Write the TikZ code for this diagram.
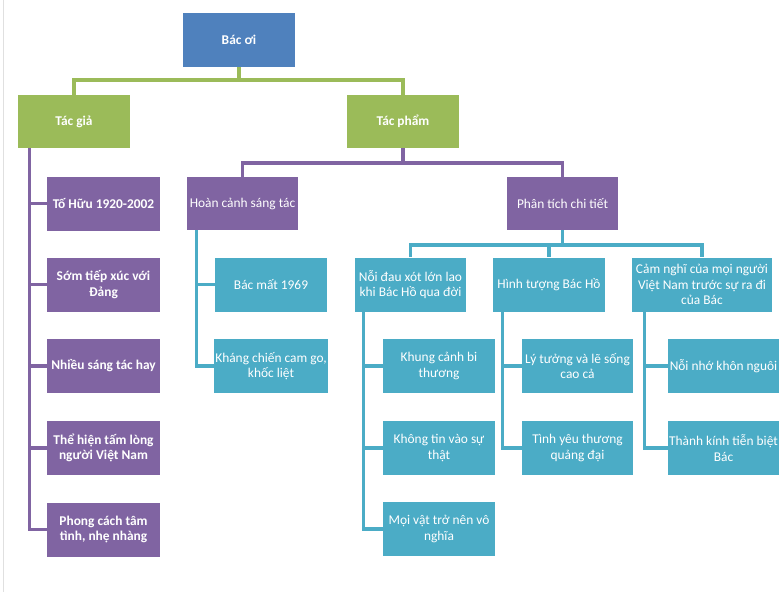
\documentclass[tikz,border=0pt]{standalone}
\usepackage{fontspec}
\setmainfont{Carlito}
\usetikzlibrary{calc}
\definecolor{cblue}{HTML}{4F81BD}
\definecolor{cgreen}{HTML}{9BBB59}
\definecolor{cpurple}{HTML}{8064A2}
\definecolor{ccyan}{HTML}{4BACC6}
\begin{document}
\begin{tikzpicture}[x=1pt,y=-1pt,
  box/.style={rectangle, inner sep=1pt, text=white, align=center,
    font=\fontsize{13.4}{15.2}\selectfont, minimum height=54pt, minimum width=112pt},
  bbox/.style={box, font=\fontsize{13.4}{15.2}\selectfont\bfseries},
  bluebox/.style={bbox, fill=cblue},
  greenbox/.style={bbox, fill=cgreen},
  purplebbox/.style={bbox, fill=cpurple},
  purplebox/.style={box, fill=cpurple},
  cyanbox/.style={box, fill=ccyan},
  conn/.style={line width=3.2pt, line join=miter},
  gline/.style={conn, draw=cgreen},
  pline/.style={conn, draw=cpurple},
  cline/.style={conn, draw=ccyan}]
\useasboundingbox (0,0) rectangle (783,592);
\fill[white] (0,0) rectangle (783,592);
\draw[black!12, line width=0.8pt] (3,0) -- (3,592);

% level 0-1
\node[bluebox] (baco) at (239,40) {Bác ơi};
\node[greenbox, minimum height=53pt] (tacgia) at (74,121.5) {Tác giả};
\node[greenbox, minimum height=53pt] (tacpham) at (403,121.5) {Tác phẩm};

% left column
\node[purplebbox, minimum width=113pt] (t1) at (103.5,203.5) {Tố Hữu 1920-2002};
\node[purplebbox, minimum width=113pt] (t2) at (103.5,284.5) {Sớm tiếp xúc với\\Đảng};
\node[purplebbox, minimum width=113pt] (t3) at (103.5,366) {Nhiều sáng tác hay};
\node[purplebbox, minimum width=113pt] (t4) at (103.5,448) {Thể hiện tấm lòng\\người Việt Nam};
\node[purplebbox, minimum width=113pt] (t5) at (103.5,529.5) {Phong cách tâm\\tình, nhẹ nhàng};

% works
\node[purplebox, minimum width=111pt, minimum height=53pt] (hoancanh) at (242.5,203.5) {Hoàn cảnh sáng tác};
\node[purplebox, minimum width=111pt, minimum height=53pt] (phantich) at (562.5,203.5) {Phân tích chi tiết};

\node[cyanbox] (bacmat) at (271,284.5) {Bác mất 1969};
\node[cyanbox] (khangchien) at (271,366) {Kháng chiến cam go,\\khốc liệt};

\node[cyanbox, minimum width=111pt] (noidau) at (410.5,284.5) {Nỗi đau xót lớn lao\\khi Bác Hồ qua đời};
\node[cyanbox] (hinhtuong) at (549,284.5) {Hình tượng Bác Hồ};
\node[cyanbox, minimum width=140pt] (camnghi) at (702,284.5) {Cảm nghĩ của mọi người\\Việt Nam trước sự ra đi\\của Bác};

\node[cyanbox] (khung) at (439,366) {Khung cảnh bi\\thương};
\node[cyanbox] (khongtin) at (439,448) {Không tin vào sự\\thật};
\node[cyanbox] (moivat) at (439,529) {Mọi vật trở nên vô\\nghĩa};

\node[cyanbox, minimum width=111pt] (lytuong) at (577.5,366) {Lý tưởng và lẽ sống\\cao cả};
\node[cyanbox, minimum width=111pt] (tinhyeu) at (577.5,448) {Tình yêu thương\\quảng đại};

\node[cyanbox, minimum width=111pt] (noinho) at (723.5,366) {Nỗi nhớ khôn nguôi};
\node[cyanbox, minimum width=111pt] (thanhkinh) at (723.5,448) {Thành kính tiễn biệt\\Bác};

% connectors level 0 -> 1
\coordinate (bus0) at (239,80);
\draw[gline] (baco.south) -- (bus0);
\draw[gline] (tacgia.north) -- (tacgia.north |- bus0) -- (tacpham.north |- bus0) -- (tacpham.north);

% Tác giả trunk
\coordinate (ltrunk) at ($(tacgia.south west)+(12,0)$);
\draw[pline] (ltrunk) |- (t5.west);
\foreach \n in {t1,t2,t3,t4} \draw[pline] (\n.west -| ltrunk) -- (\n.west);

% Tác phẩm bus
\coordinate (bus1) at (403,163);
\draw[pline] (tacpham.south) -- (bus1);
\draw[pline] (hoancanh.north) -- (hoancanh.north |- bus1) -- (phantich.north |- bus1) -- (phantich.north);

% Hoàn cảnh trunk
\coordinate (htrunk) at ($(hoancanh.south west)+(10,0)$);
\draw[cline] (htrunk) |- (khangchien.west);
\draw[cline] (bacmat.west -| htrunk) -- (bacmat.west);

% Phân tích bus
\coordinate (bus2) at (562.5,245);
\draw[cline] (phantich.south) -- (bus2);
\draw[cline] (noidau.north) -- (noidau.north |- bus2) -- (camnghi.north |- bus2) -- (camnghi.north);
\draw[cline] (hinhtuong.north |- bus2) -- (hinhtuong.north);

% sub trunks
\coordinate (ntrunk) at ($(noidau.south west)+(9,0)$);
\draw[cline] (ntrunk) |- (moivat.west);
\foreach \n in {khung,khongtin} \draw[cline] (\n.west -| ntrunk) -- (\n.west);

\coordinate (httrunk) at ($(hinhtuong.south west)+(10,0)$);
\draw[cline] (httrunk) |- (tinhyeu.west);
\draw[cline] (lytuong.west -| httrunk) -- (lytuong.west);

\coordinate (ctrunk) at ($(camnghi.south west)+(13,0)$);
\draw[cline] (ctrunk) |- (thanhkinh.west);
\draw[cline] (noinho.west -| ctrunk) -- (noinho.west);
\end{tikzpicture}
\end{document}
